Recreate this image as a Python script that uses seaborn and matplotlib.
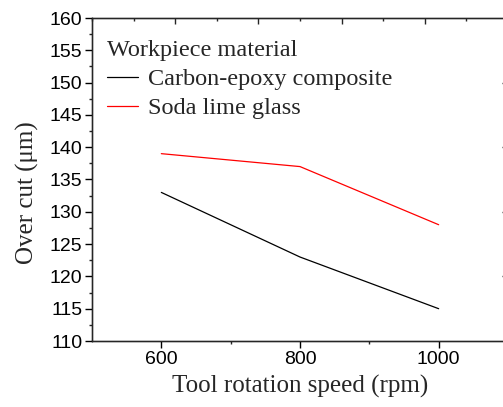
import matplotlib
matplotlib.use("Agg")
import matplotlib.pyplot as plt
from matplotlib.ticker import MultipleLocator, FixedLocator
import seaborn as sns
import pandas as pd

speeds = [600, 800, 1000]
carbon = [133, 123, 115]
glass = [139, 137, 128]
series_names = ["Carbon-epoxy composite", "Soda lime glass"]
colors = ["black", "red"]

df = pd.DataFrame({
    "speed": speeds * 2,
    "overcut": carbon + glass,
    "material": [series_names[0]] * 3 + [series_names[1]] * 3,
})

sns.set_style("ticks")
plt.rcParams["font.family"] = ["Liberation Sans", "DejaVu Sans"]

fig = plt.figure(figsize=(5.03, 4.07), dpi=100)
W, H = 503, 407
ax = fig.add_axes([92 / W, 66 / H, (508 - 92) / W, 323 / H])

sns.lineplot(data=df, x="speed", y="overcut", hue="material",
             palette=dict(zip(series_names, colors)), linewidth=0.9, ax=ax)

ax.set_xlim(500, 1100)
ax.set_ylim(110, 160)
ax.xaxis.set_major_locator(FixedLocator([600, 800, 1000]))
ax.xaxis.set_minor_locator(FixedLocator([700, 900]))
ax.yaxis.set_major_locator(MultipleLocator(5))
ax.yaxis.set_minor_locator(MultipleLocator(2.5))
ax.tick_params(which="major", direction="out", length=5, width=1, labelsize=14,
               colors="black", pad=2)
ax.tick_params(which="minor", direction="out", length=2.5, width=1)
for s in ax.spines.values():
    s.set_linewidth(1.0)
    s.set_color("black")

serif = ["Liberation Serif", "DejaVu Serif"]
ax.set_xlabel("Tool rotation speed (rpm)", fontsize=18, family=serif, labelpad=5)
ax.set_ylabel("Over cut (μm)", fontsize=18, family=serif)
ax.yaxis.set_label_coords(-0.128, 0.46)

axt = ax.twiny()
axt.set_xlim(0, 5)
axt.xaxis.set_major_locator(FixedLocator([1, 2, 3, 4]))
axt.xaxis.set_minor_locator(MultipleLocator(0.5))
axt.tick_params(axis="x", which="major", direction="in", length=4, width=1, labeltop=False)
axt.tick_params(axis="x", which="minor", direction="in", length=2, width=1)

axr = ax.twinx()
axr.set_ylim(110, 160)
axr.yaxis.set_major_locator(FixedLocator([120, 130, 140, 150]))
axr.tick_params(axis="y", which="major", direction="in", length=4, width=1, labelright=False)

leg = ax.legend(title="Workpiece material", frameon=False, loc="upper left",
                bbox_to_anchor=(-0.01, 0.993), prop={"family": serif, "size": 17.5},
                handlelength=1.25, handletextpad=0.42, labelspacing=0.3, borderaxespad=0.4)
leg.get_title().set_fontfamily(serif)
leg.get_title().set_fontsize(17.5)
leg._legend_box.align = "left"
for line in leg.get_lines():
    line.set_linewidth(0.9)

fig.savefig("out.png", dpi=100)
